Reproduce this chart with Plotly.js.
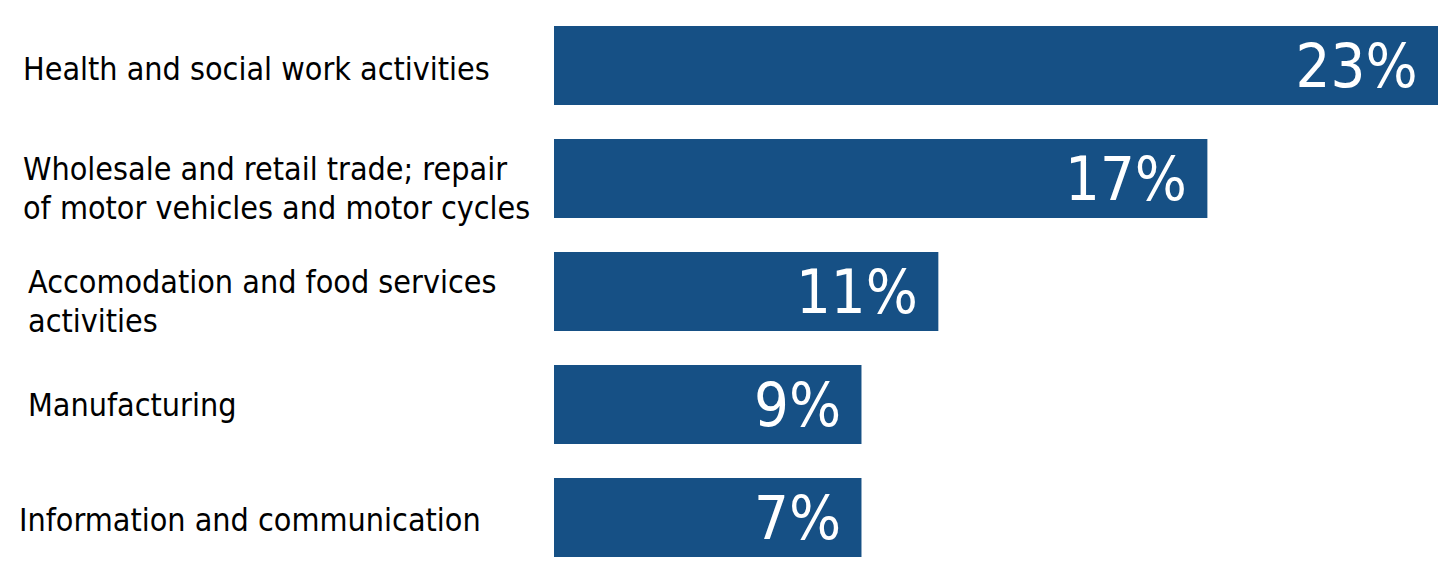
<!DOCTYPE html>
<html>
<head>
<meta charset="utf-8">
<script src="https://cdn.plot.ly/plotly-3.0.1.min.js"></script>
<style>
  html, body { margin: 0; padding: 0; background: #ffffff; }
  #chart { width: 1441px; height: 574px; }
</style>
</head>
<body>
<div id="chart"></div>
<script>
// Data
const categories = [
  "Health and social work activities",
  "Wholesale and retail trade; repair<br>of motor vehicles and motor cycles",
  "Accomodation and food services<br>activities",
  "Manufacturing",
  "Information and communication"
];
const barValues = [23, 17, 10, 8, 8];
const valueLabels = ["23%", "17%", "11%", "9%", "7%"];

const FONT = '"DejaVu Sans Condensed", "Liberation Sans Narrow", "Open Sans", sans-serif';
const BAR_COLOR = '#165085';

const trace = {
  type: 'bar',
  orientation: 'h',
  x: barValues,
  y: categories,
  // trailing no-break space gives the inset seen in the reference
  text: valueLabels.map(t => t + '\u00a0'),
  textposition: 'inside',
  insidetextanchor: 'end',
  constraintext: 'none',
  textfont: { family: FONT, size: 61, color: '#ffffff' },
  marker: { color: BAR_COLOR },
  hoverinfo: 'none'
};

// category labels drawn as left-aligned text, one annotation per line for tight leading
const labelShift = [0, 0, 5, 5, -4];
const labelYShift = [-3, -10, -10, 0, -2];
const LINE_PITCH = 39;
const annotations = [];
categories.forEach((c, i) => {
  const lines = c.split('<br>');
  const n = lines.length;
  lines.forEach((ln, j) => {
    annotations.push({
      xref: 'paper', yref: 'y',
      x: 0, y: c,
      xanchor: 'left', yanchor: 'middle',
      xshift: -533 + labelShift[i],
      yshift: labelYShift[i] - (j - (n - 1) / 2) * LINE_PITCH,
      align: 'left',
      text: ln,
      showarrow: false,
      font: { family: FONT, size: 32, color: '#000000' }
    });
  });
});

const layout = {
  width: 1441, height: 574,
  margin: { l: 554, r: 3, t: 9, b: 0, pad: 0 },
  paper_bgcolor: '#ffffff',
  plot_bgcolor: '#ffffff',
  showlegend: false,
  bargap: 0.3,
  xaxis: { range: [0, 23], visible: false, fixedrange: true },
  yaxis: { autorange: 'reversed', showticklabels: false, showgrid: false, zeroline: false, showline: false, ticks: '', type: 'category' },
  annotations: annotations
};

Plotly.newPlot('chart', [trace], layout, { staticPlot: true, displayModeBar: false });
</script>
</body>
</html>
